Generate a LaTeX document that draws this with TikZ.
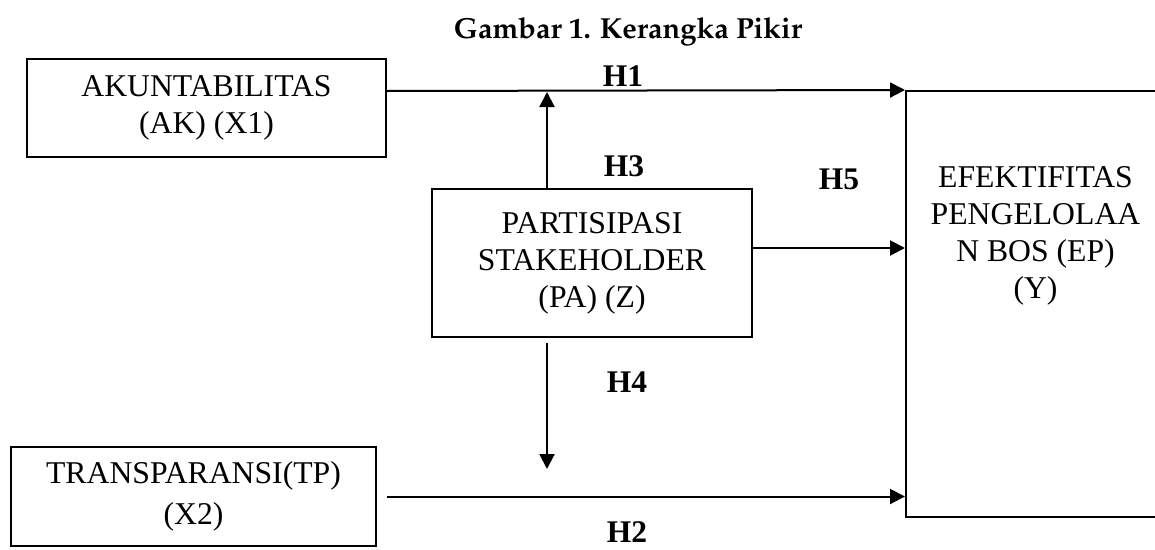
\documentclass[tikz,border=0pt]{standalone}
\usepackage[T1]{fontenc}
\usepackage{fontspec}
\setmainfont{Liberation Serif}
\usepackage{tikz}
\usetikzlibrary{arrows.meta,positioning}
\newcommand\boxfont{\fontsize{31.7}{37}\selectfont}
\newcommand\hypfont{\fontsize{31.5}{37}\selectfont\bfseries}
\newcommand\titlefont{\fontencoding{T1}\fontfamily{ppl}\fontseries{b}\fontsize{29}{34}\selectfont}

\begin{document}
\begin{tikzpicture}[x=1pt,y=-1pt,line width=2pt,>={Triangle[length=15pt,width=15pt]}]
\tikzstyle{box}=[rectangle,draw=black,line width=2pt,
inner sep=0pt,align=center,font=\boxfont]
\tikzstyle{hyp}=[inner sep=0pt,font=\hypfont]
\useasboundingbox (0,0) rectangle (1155,549);

\node[anchor=base,font=\titlefont] at (628,38) (title) {Gambar 1. Kerangka Pikir};

\node[box,minimum width=359pt,minimum height=98pt] at (206.5,108) (AK) {AKUNTABILITAS\\(AK) (X1)};
\node[box,minimum width=365pt,minimum height=99pt] at (193.5,496.5) (TP) {TRANSPARANSI(TP)\\[4pt](X2)};
\node[box,minimum width=320pt,minimum height=148pt] at (592,263) (PA) {PARTISIPASI\\STAKEHOLDER\\(PA) (Z)};
\node[box,minimum width=259pt,minimum height=426pt,
label={[font=\boxfont,align=center,inner sep=0pt,anchor=north,yshift=-76pt]north:EFEKTIFITAS\\PENGELOLAA\\N BOS (EP)\\(Y)}] at (1035.5,304) (EP) {};

\node[hyp] at (623,76) (H1) {H1};
\node[hyp] at (627,532) (H2) {H2};
\node[hyp] at (624,166) (H3) {H3};
\node[hyp] at (627,382) (H4) {H4};
\node[hyp] at (839,179) (H5) {H5};

\coordinate (upend) at (547,92);
\coordinate (dnend) at (547,469);

\path[->] ([yshift=17pt]AK.east) edge (EP.north west) ;
\path[->] ([xshift=10pt]TP.east) edge (TP.east -| EP.west) ;
\path[->] ([yshift=15pt]PA.east) edge ([yshift=56pt]EP.west) ;
\path[->] ([xshift=-45pt]PA.north) edge (upend) ;
\path[->] ([xshift=-45pt,yshift=-5pt]PA.south) edge (dnend) ;

\end{tikzpicture}
\end{document}
